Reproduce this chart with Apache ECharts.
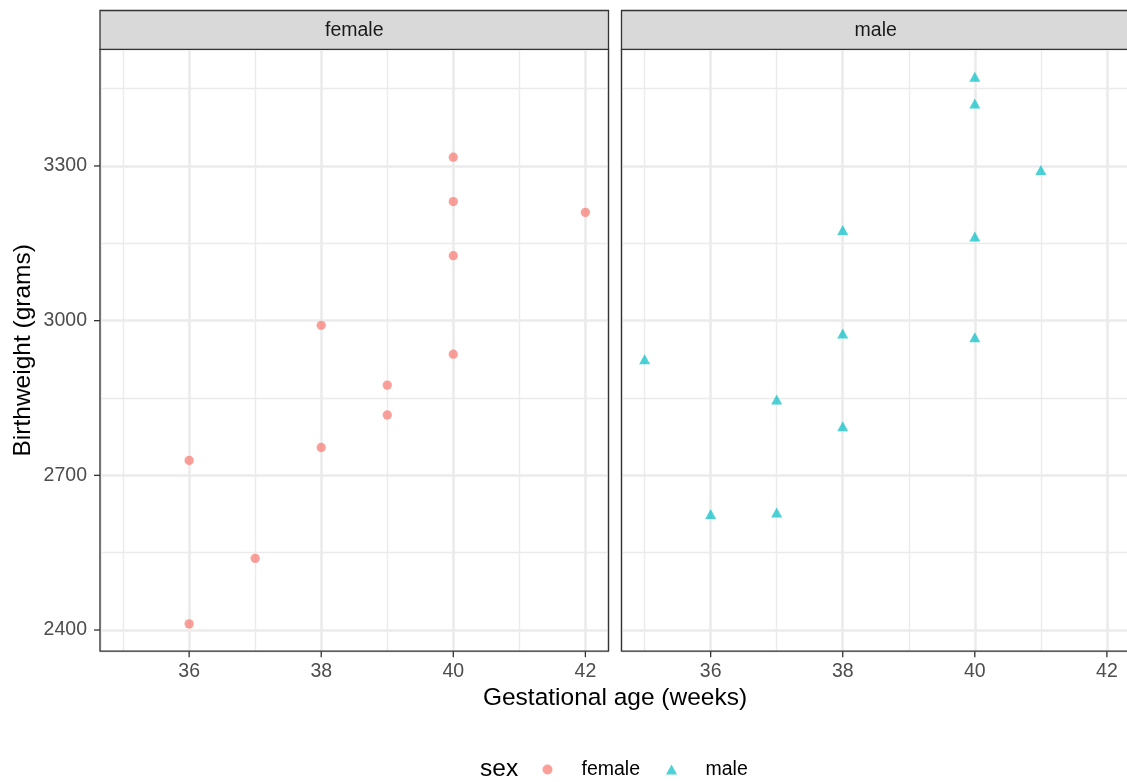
<!DOCTYPE html>
<html>
<head>
<meta charset="utf-8">
<script src="https://cdn.jsdelivr.net/npm/echarts@6/dist/echarts.min.js"></script>
<style>html,body{margin:0;padding:0;background:#fff}#c{width:1127px;height:782px}</style>
</head>
<body>
<div id="c"></div>
<script>
// ---- data ----
const panels = ['female', 'male'];
const femaleAge = [40, 36, 40, 38, 42, 39, 40, 37, 36, 38, 39, 40];
const femaleWeight = [3317, 2729, 2935, 2754, 3210, 2817, 3126, 2539, 2412, 2991, 2875, 3231];
const maleAge = [40, 38, 40, 35, 36, 37, 41, 40, 37, 38, 40, 38];
const maleWeight = [2968, 2795, 3163, 2925, 2625, 2847, 3292, 3473, 2628, 3176, 3421, 2975];
const xTicks = [36, 38, 40, 42];
const yTicks = [2400, 2700, 3000, 3300];
const xTitle = 'Gestational age (weeks)';
const yTitle = 'Birthweight (grams)';
const legendTitle = 'sex';

// ---- scales (ggplot-style 5% expansion) ----
const allX = femaleAge.concat(maleAge), allY = femaleWeight.concat(maleWeight);
function expand(arr) {
  const mn = Math.min.apply(null, arr), mx = Math.max.apply(null, arr), d = (mx - mn) * 0.05;
  return [mn - d, mx + d];
}
const xr = expand(allX), yr = expand(allY);

// ---- layout ----
const FONT = 'Liberation Sans, Arial, sans-serif';
const P = { top: 49.4, height: 601.8, width: 508.5, lefts: [100, 621.5] };
const STRIP = { top: 10.5 };
const TICK_LEN = 6;
const GRID_COL = '#EBEBEB', BORDER = '#333333';

const chart = echarts.init(document.getElementById('c'), null, { renderer: 'canvas' });

const grids = P.lefts.map(l => ({ left: l, top: P.top, width: P.width, height: P.height, show: true, backgroundColor: '#fff', borderWidth: 0, containLabel: false, outerBoundsMode: 'none' }));

const fmt = v => String(v);

const xAxes = P.lefts.map((l, i) => ({
  type: 'value', gridIndex: i, min: xr[0], max: xr[1], splitNumber: 4,
  axisLine: { show: false },
  axisTick: { show: false },
  axisLabel: { show: true, interval: 0, margin: 10, color: '#4D4D4D', fontSize: 19.5, fontFamily: FONT, customValues: xTicks, formatter: fmt },
  splitLine: { show: true, lineStyle: { color: GRID_COL, width: 2.6 } },
  minorTick: { show: false, splitNumber: 2 },
  minorSplitLine: { show: true, lineStyle: { color: GRID_COL, width: 1.4 } }
}));

const yAxes = P.lefts.map((l, i) => ({
  type: 'value', gridIndex: i, min: yr[0], max: yr[1], splitNumber: 4,
  axisLine: { show: false },
  axisTick: { show: false },
  axisLabel: { show: i === 0, interval: 0, margin: 13, color: '#4D4D4D', fontSize: 19.5, fontFamily: FONT, customValues: yTicks, formatter: fmt },
  splitLine: { show: true, lineStyle: { color: GRID_COL, width: 2.6 } },
  minorTick: { show: false, splitNumber: 2 },
  minorSplitLine: { show: true, lineStyle: { color: GRID_COL, width: 1.4 } }
}));

function pairs(xs, ys) { return xs.map((x, i) => [x, ys[i]]); }

const series = [
  { name: 'female', type: 'scatter', xAxisIndex: 0, yAxisIndex: 0, data: pairs(femaleAge, femaleWeight),
    symbol: 'circle', symbolSize: 9.3, itemStyle: { color: '#F8766D', opacity: 0.7 }, z: 5 },
  { name: 'male', type: 'scatter', xAxisIndex: 1, yAxisIndex: 1, data: pairs(maleAge, maleWeight),
    symbol: 'triangle', symbolSize: [11, 10], itemStyle: { color: '#00BFC4', opacity: 0.7 }, z: 5 }
];

const graphics = [];
P.lefts.forEach((l, i) => {
  graphics.push({ type: 'rect', z: 100, silent: true,
    shape: { x: l, y: P.top, width: P.width, height: P.height },
    style: { fill: null, stroke: BORDER, lineWidth: 1.3 } });
  graphics.push({ type: 'rect', z: 100, silent: true,
    shape: { x: l, y: STRIP.top, width: P.width, height: P.top - STRIP.top },
    style: { fill: '#D9D9D9', stroke: BORDER, lineWidth: 1.3 } });
  graphics.push({ type: 'text', z: 101, silent: true,
    x: l + P.width / 2, y: (STRIP.top + P.top) / 2 + 0.5,
    style: { text: panels[i], fill: '#1A1A1A', font: '19.5px ' + FONT, align: 'center', verticalAlign: 'middle' } });
});
graphics.push({ type: 'text', z: 101, silent: true, x: (P.lefts[0] + P.lefts[1] + P.width) / 2, y: 698,
  style: { text: xTitle, fill: '#000', font: '24.5px ' + FONT, align: 'center', verticalAlign: 'middle' } });
graphics.push({ type: 'text', z: 101, silent: true, x: 23, y: P.top + P.height / 2, rotation: Math.PI / 2,
  style: { text: yTitle, fill: '#000', font: '24.5px ' + FONT, align: 'center', verticalAlign: 'middle' } });
graphics.push({ type: 'text', z: 101, silent: true, x: 480, y: 769.5,
  style: { text: legendTitle, fill: '#000', font: '24.5px ' + FONT, align: 'left', verticalAlign: 'middle' } });

chart.setOption({
  animation: false,
  backgroundColor: '#fff',
  textStyle: { fontFamily: FONT },
  grid: grids,
  xAxis: xAxes,
  yAxis: yAxes,
  series: series,
  legend: {
    data: [{ name: 'female', icon: 'circle' }, { name: 'male', icon: 'triangle' }],
    orient: 'horizontal', left: 542.5, top: 759.5, padding: 0,
    itemWidth: 11, itemHeight: 10, itemGap: 26, symbolKeepAspect: true,
    textStyle: { fontSize: 19.5, color: '#000', fontFamily: FONT, padding: [0, 0, 0, 23.5] } },
  graphic: graphics
});

// axis tick marks placed through the library's own scales
const tickMarks = [];
P.lefts.forEach((l, i) => {
  const bottom = P.top + P.height;
  xTicks.forEach(v => {
    const px = chart.convertToPixel({ xAxisIndex: i }, v);
    if (px == null || isNaN(px)) return;
    tickMarks.push({ type: 'line', z: 101, silent: true,
      shape: { x1: px, y1: bottom, x2: px, y2: bottom + TICK_LEN },
      style: { stroke: BORDER, lineWidth: 1.3 } });
  });
});
yTicks.forEach(v => {
  const py = chart.convertToPixel({ yAxisIndex: 0 }, v);
  if (py == null || isNaN(py)) return;
  tickMarks.push({ type: 'line', z: 101, silent: true,
    shape: { x1: P.lefts[0] - TICK_LEN, y1: py, x2: P.lefts[0], y2: py },
    style: { stroke: BORDER, lineWidth: 1.3 } });
});
chart.setOption({ graphic: graphics.concat(tickMarks) });
</script>
</body>
</html>
